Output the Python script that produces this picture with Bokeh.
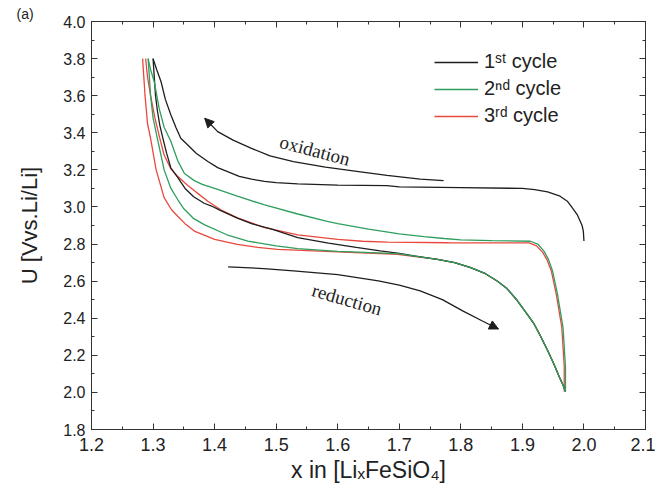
from bokeh.plotting import figure
from bokeh.models import (LinearAxis, Range1d, Label, Legend, LegendItem, Arrow, Title,
                          NormalHead, SingleIntervalTicker, PrintfTickFormatter,
                          CustomJSTickFormatter)
from bokeh.embed import file_html
from bokeh.resources import INLINE

# ---------------- data ----------------
# cycle 1 (black)
c1_ox_x = [2.000, 1.999, 1.997, 1.989, 1.980, 1.973, 1.960, 1.941, 1.920, 1.900, 1.800, 1.700,
           1.680, 1.600, 1.535, 1.500, 1.481, 1.460, 1.440, 1.421, 1.405, 1.389, 1.370, 1.356,
           1.345, 1.337, 1.329, 1.320, 1.313, 1.306, 1.300]
c1_ox_u = [2.816, 2.870, 2.900, 2.959, 3.000, 3.031, 3.060, 3.081, 3.093, 3.100, 3.104, 3.108,
           3.115, 3.118, 3.124, 3.131, 3.138, 3.150, 3.165, 3.190, 3.212, 3.245, 3.290, 3.335,
           3.370, 3.430, 3.496, 3.580, 3.675, 3.740, 3.800]
c1_red_x = [1.300, 1.302, 1.304, 1.307, 1.311, 1.316, 1.322, 1.329, 1.340, 1.352, 1.366, 1.383,
            1.395, 1.410, 1.437, 1.460, 1.493, 1.535, 1.585, 1.630, 1.669, 1.700, 1.724, 1.762,
            1.790, 1.816, 1.840, 1.859, 1.875, 1.892, 1.906, 1.919, 1.930, 1.941, 1.951, 1.960,
            1.966, 1.970]
c1_red_u = [3.800, 3.700, 3.600, 3.520, 3.440, 3.370, 3.290, 3.210, 3.160, 3.100, 3.055, 3.020,
            3.005, 2.980, 2.940, 2.910, 2.880, 2.835, 2.805, 2.782, 2.763, 2.750, 2.736, 2.717,
            2.700, 2.673, 2.640, 2.601, 2.560, 2.494, 2.430, 2.369, 2.300, 2.226, 2.155, 2.083,
            2.040, 2.005]
# cycle 2 (green)
c2_ox_x = [1.970, 1.970, 1.966, 1.961, 1.957, 1.949, 1.942, 1.935, 1.925, 1.913, 1.850, 1.800,
           1.773, 1.740, 1.700, 1.650, 1.600, 1.583, 1.535, 1.480, 1.437, 1.400, 1.380, 1.367,
           1.351, 1.340, 1.329, 1.318, 1.310, 1.302, 1.296, 1.292]
c2_ox_u = [2.005, 2.140, 2.350, 2.450, 2.530, 2.655, 2.720, 2.762, 2.800, 2.815, 2.818, 2.823,
           2.830, 2.840, 2.855, 2.880, 2.910, 2.922, 2.962, 3.012, 3.058, 3.100, 3.122, 3.142,
           3.180, 3.250, 3.353, 3.430, 3.530, 3.675, 3.740, 3.800]
c2_red_x = [1.292, 1.294, 1.296, 1.300, 1.307, 1.318, 1.329, 1.340, 1.350, 1.365, 1.383, 1.420,
            1.454, 1.500, 1.535, 1.600, 1.697, 1.762, 1.790, 1.816, 1.840, 1.859, 1.875, 1.892,
            1.906, 1.919, 1.930, 1.941, 1.951, 1.960, 1.966, 1.970]
c2_red_u = [3.800, 3.700, 3.600, 3.480, 3.370, 3.200, 3.100, 3.040, 2.990, 2.940, 2.905, 2.850,
            2.816, 2.790, 2.775, 2.760, 2.748, 2.717, 2.700, 2.673, 2.640, 2.601, 2.560, 2.494,
            2.430, 2.369, 2.300, 2.226, 2.155, 2.083, 2.040, 2.005]
# cycle 3 (red)
c3_ox_x = [1.968, 1.968, 1.964, 1.959, 1.955, 1.947, 1.940, 1.933, 1.923, 1.911, 1.850, 1.780,
           1.681, 1.640, 1.600, 1.535, 1.480, 1.437, 1.410, 1.389, 1.370, 1.355, 1.340, 1.329,
           1.318, 1.311, 1.303, 1.296, 1.291, 1.288]
c3_ox_u = [2.005, 2.140, 2.350, 2.450, 2.530, 2.655, 2.715, 2.755, 2.790, 2.806, 2.806, 2.807,
           2.810, 2.815, 2.825, 2.850, 2.890, 2.941, 2.985, 3.031, 3.080, 3.120, 3.165, 3.205,
           3.280, 3.370, 3.480, 3.600, 3.700, 3.800]
c3_red_x = [1.283, 1.285, 1.287, 1.291, 1.296, 1.305, 1.318, 1.330, 1.340, 1.352, 1.367, 1.400,
            1.437, 1.470, 1.502, 1.600, 1.697, 1.762, 1.790, 1.816, 1.840, 1.859, 1.875, 1.892,
            1.906, 1.919, 1.930, 1.941, 1.951, 1.960, 1.966, 1.970]
c3_red_u = [3.800, 3.700, 3.600, 3.450, 3.370, 3.200, 3.050, 2.985, 2.950, 2.910, 2.870, 2.825,
            2.798, 2.782, 2.771, 2.758, 2.745, 2.717, 2.700, 2.673, 2.640, 2.601, 2.560, 2.494,
            2.430, 2.369, 2.300, 2.226, 2.155, 2.083, 2.040, 2.005]

# direction arrows
ox_arrow_x = [1.772, 1.734, 1.680, 1.631, 1.580, 1.528, 1.490, 1.459, 1.430, 1.405, 1.384]
ox_arrow_u = [3.142, 3.150, 3.170, 3.192, 3.215, 3.245, 3.275, 3.317, 3.360, 3.406, 3.478]
red_arrow_x = [1.422, 1.480, 1.528, 1.600, 1.666, 1.700, 1.734, 1.770, 1.803, 1.835, 1.861]
red_arrow_u = [2.677, 2.668, 2.655, 2.635, 2.601, 2.578, 2.548, 2.500, 2.440, 2.385, 2.342]

series_labels = ["1\u02e2\u1d57 cycle", "2\u207f\u1d48 cycle", "3\u02b3\u1d48 cycle"]
x_label = "x in [Li\u2093FeSiO\u2084]"
y_label = "U [Vvs.Li/Li]"
panel_tag = "(a)"
x_limits = (1.2, 2.1)
y_limits = (1.8, 4.0)

# ---------------- styling ----------------
BLACK = "#1e1e1e"
GREEN = "#2f9e5e"
RED = "#e8493f"
SANS = "Liberation Sans"
SERIF = "Liberation Serif"

p = figure(width=655, height=485, x_range=Range1d(*x_limits), y_range=Range1d(*y_limits),
           output_backend="svg", toolbar_location=None,
           min_border_left=91, min_border_right=10, min_border_top=21, min_border_bottom=55)
p.grid.visible = False
p.outline_line_color = "#333333"
p.background_fill_color = "white"
p.border_fill_color = "white"

xt = SingleIntervalTicker(interval=0.1, num_minor_ticks=2)
yt = SingleIntervalTicker(interval=0.2, num_minor_ticks=2)

def style_axis(ax):
    ax.axis_line_color = "#333333"
    ax.major_tick_line_color = "#333333"
    ax.minor_tick_line_color = "#333333"
    ax.major_tick_in = 6
    ax.major_tick_out = 0
    ax.minor_tick_in = 3
    ax.minor_tick_out = 0

p.xaxis.ticker = xt
p.yaxis.ticker = yt
p.xaxis.formatter = PrintfTickFormatter(format="%.1f")
p.yaxis.formatter = PrintfTickFormatter(format="%.1f")
for ax in (p.xaxis[0], p.yaxis[0]):
    style_axis(ax)
    ax.major_label_text_font = SANS
    ax.major_label_text_color = "#222222"
    ax.axis_label_text_font = SANS
    ax.axis_label_text_font_style = "normal"
    ax.axis_label_text_color = "#222222"
p.xaxis.axis_label_text_font_size = "23px"
p.yaxis.axis_label_text_font_size = "22px"
p.xaxis.major_label_text_font_size = "18px"
p.yaxis.major_label_text_font_size = "16px"
p.xaxis.major_label_standoff = 8
p.yaxis.major_label_standoff = 6
p.xaxis.axis_label = x_label
p.yaxis.axis_label = y_label
p.xaxis.axis_label_standoff = 3
p.yaxis.axis_label_standoff = 18

blank = CustomJSTickFormatter(code="return ''")
top_ax = LinearAxis(ticker=xt, formatter=blank, major_label_standoff=0)
right_ax = LinearAxis(ticker=yt, formatter=blank, major_label_standoff=0)
style_axis(top_ax)
style_axis(right_ax)
p.add_layout(top_ax, "above")
p.add_layout(right_ax, "right")

p.add_layout(Title(text=panel_tag, align="left", offset=-75, standoff=0,
                   text_font=SANS, text_font_size="14px", text_font_style="normal",
                   text_color="#222222"), "above")

lw = 1.3
r3o = p.line(c3_ox_x, c3_ox_u, line_color=RED, line_width=lw)
r3r = p.line(c3_red_x, c3_red_u, line_color=RED, line_width=lw)
r1o = p.line(c1_ox_x, c1_ox_u, line_color=BLACK, line_width=lw)
r1r = p.line(c1_red_x, c1_red_u, line_color=BLACK, line_width=lw)
r2o = p.line(c2_ox_x, c2_ox_u, line_color=GREEN, line_width=lw)
r2r = p.line(c2_red_x, c2_red_u, line_color=GREEN, line_width=lw)

# arrows
for ax_x, ax_u in ((ox_arrow_x, ox_arrow_u), (red_arrow_x, red_arrow_u)):
    p.line(ax_x, ax_u, line_color=BLACK, line_width=1.3)
    p.add_layout(Arrow(end=NormalHead(size=9, fill_color=BLACK, line_color=BLACK),
                       x_start=ax_x[-2], y_start=ax_u[-2], x_end=ax_x[-1], y_end=ax_u[-1],
                       line_color=None))

p.add_layout(Label(x=1.563, y=3.305, text="oxidation", angle=-0.26, text_align="center",
                   text_baseline="middle", text_font=SERIF, text_font_size="19px",
                   text_color="#222222"))
p.add_layout(Label(x=1.615, y=2.501, text="reduction", angle=-0.28, text_align="center",
                   text_baseline="middle", text_font=SERIF, text_font_size="19px",
                   text_color="#222222"))

legend = Legend(items=[LegendItem(label=series_labels[0], renderers=[r1o]),
                       LegendItem(label=series_labels[1], renderers=[r2o]),
                       LegendItem(label=series_labels[2], renderers=[r3o])],
                location=(343, 302), glyph_width=44, glyph_height=20, label_height=20,
                spacing=4, padding=0, margin=0, label_standoff=6,
                border_line_color=None, background_fill_alpha=0,
                label_text_font=SANS, label_text_font_size="20px",
                label_text_color="#222222")
p.add_layout(legend)

open("out.html", "w").write(file_html(p, INLINE))
